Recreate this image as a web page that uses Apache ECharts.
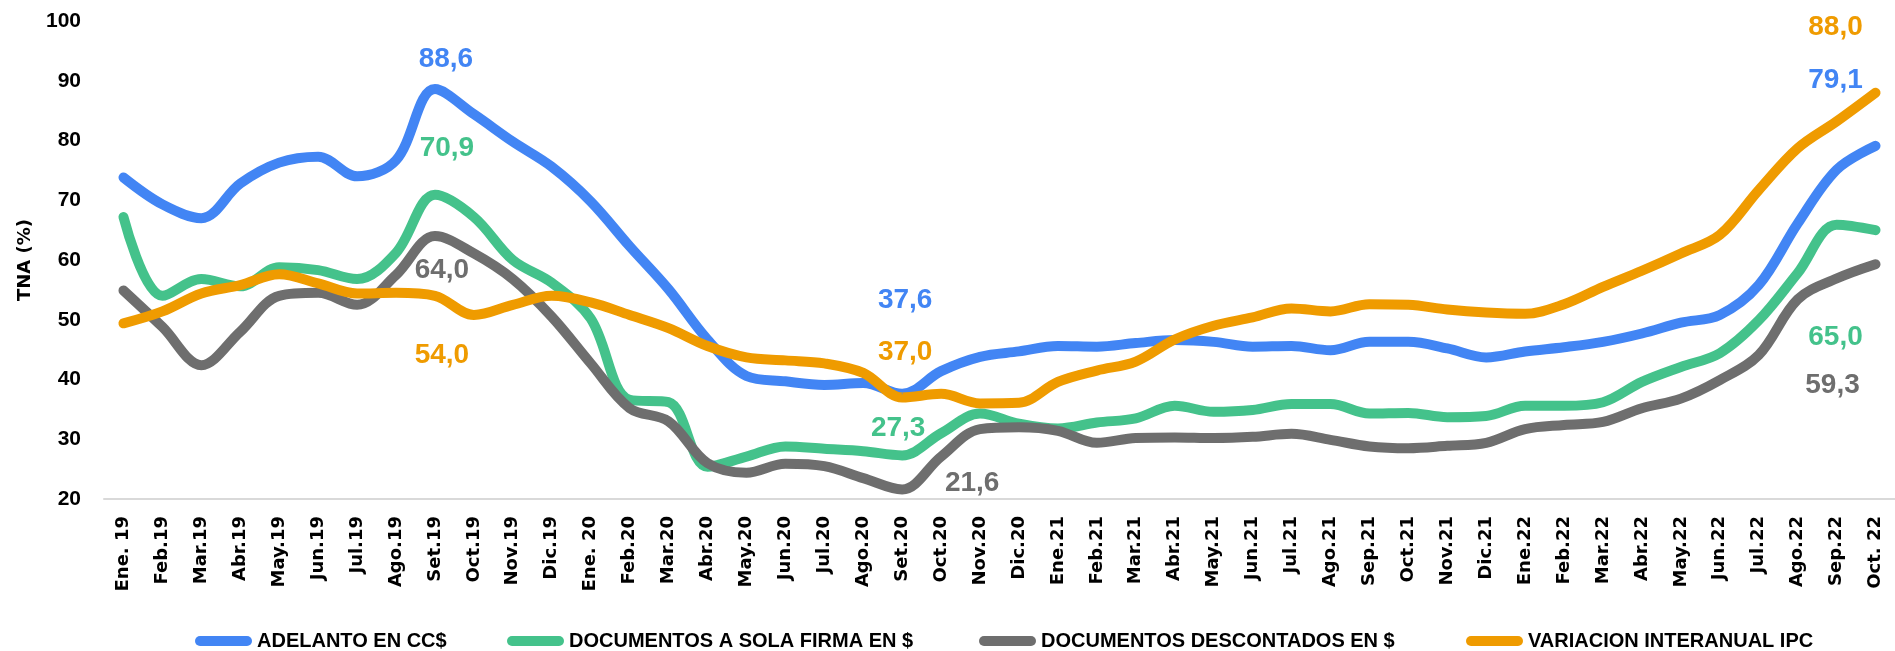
<!DOCTYPE html>
<html>
<head>
<meta charset="utf-8">
<title>TNA (%)</title>
<script src="https://cdn.jsdelivr.net/npm/echarts/dist/echarts.min.js"></script>
<style>
  html, body { margin: 0; padding: 0; background: #fff; }
  #chart { width: 1895px; height: 651px; }
</style>
</head>
<body>
<div id="chart"></div>
<script>
// meses
const months = [
  "Ene. 19", "Feb.19", "Mar.19", "Abr.19", "May.19", "Jun.19", "Jul.19", "Ago.19", "Set.19", "Oct.19", "Nov.19", "Dic.19",
  "Ene. 20", "Feb.20", "Mar.20", "Abr.20", "May.20", "Jun.20", "Jul.20", "Ago.20", "Set.20", "Oct.20", "Nov.20", "Dic.20",
  "Ene.21", "Feb.21", "Mar.21", "Abr.21", "May.21", "Jun.21", "Jul.21", "Ago.21", "Sep.21", "Oct.21", "Nov.21", "Dic.21",
  "Ene.22", "Feb.22", "Mar.22", "Abr.22", "May.22", "Jun.22", "Jul.22", "Ago.22", "Sep.22", "Oct. 22"
];

// ADELANTO EN CC$
const adelanto = [
  73.8, 69.3, 67.0, 72.8, 76.3, 77.3, 74.0, 76.7, 88.6, 84.4, 79.8, 75.6,
  69.8, 62.3, 55.1, 46.7, 40.6, 39.7, 39.1, 39.4, 37.6, 41.4, 43.8, 44.7,
  45.6, 45.5, 46.1, 46.6, 46.3, 45.5, 45.6, 44.9, 46.3, 46.3, 45.2, 43.7,
  44.7, 45.4, 46.3, 47.7, 49.5, 50.8, 55.8, 66.1, 75.1, 79.1
];
// DOCUMENTOS A SOLA FIRMA EN $
const solaFirma = [
  67.2, 54.0, 56.8, 55.6, 58.8, 58.3, 56.8, 61.2, 70.9, 67.2, 60.0, 56.2,
  50.2, 36.6, 36.2, 25.4, 27.1, 28.8, 28.4, 28.0, 27.3, 31.0, 34.3, 32.6,
  31.8, 32.8, 33.5, 35.6, 34.6, 34.9, 35.9, 35.9, 34.3, 34.4, 33.7, 33.9,
  35.6, 35.6, 36.2, 39.6, 42.1, 44.4, 49.9, 57.8, 65.9, 65.0
];
// DOCUMENTOS DESCONTADOS EN $
const descontados = [
  54.9, 48.8, 42.4, 48.0, 54.0, 54.5, 52.5, 57.5, 64.0, 61.1, 56.8, 50.5,
  42.7, 35.2, 33.0, 26.0, 24.4, 25.9, 25.5, 23.5, 21.6, 27.1, 31.7, 32.0,
  31.4, 29.4, 30.2, 30.3, 30.2, 30.4, 30.9, 29.9, 28.8, 28.5, 28.9, 29.4,
  31.7, 32.4, 32.9, 35.2, 36.8, 39.9, 44.1, 53.4, 56.9, 59.3
];
// VARIACION INTERANUAL IPC
const ipc = [
  49.4, 51.4, 54.4, 55.8, 57.6, 56.1, 54.4, 54.5, 54.0, 50.8, 52.5, 54.0,
  52.9, 50.8, 48.6, 45.6, 43.7, 43.2, 42.7, 41.1, 37.0, 37.6, 36.0, 36.1,
  39.6, 41.5, 43.0, 46.7, 49.0, 50.4, 51.9, 51.4, 52.6, 52.5, 51.7, 51.2,
  51.0, 52.6, 55.5, 58.2, 61.1, 64.2, 71.7, 78.7, 83.2, 88.0
];

const yTicks = { min: 20, max: 100, step: 10 };

// donde van las etiquetas de valor (indice -> desplazamiento en px)
const labelSpots = {
  adelanto: { 8: [11, -30], 20: [3, -94], 45: [-40, -66] },
  solaFirma: { 8: [12, -47], 20: [-4, -27], 45: [-40, 107] },
  descontados: { 8: [7, 34], 20: [70, -6], 45: [-43, 121] },
  ipc: { 8: [7, 59], 20: [3, -45], 45: [-40, -65] }
};

const colors = {
  adelanto: "#4285F4",
  solaFirma: "#44C28B",
  descontados: "#6E6E6E",
  ipc: "#EF9B00"
};

const numFont = "Liberation Sans, Arial, sans-serif";

function buildData(values, spots, color) {
  return values.map(function (v, i) {
    if (!spots[i]) return v;
    return {
      value: v,
      symbol: "circle",
      symbolSize: 1,
      label: {
        show: true,
        position: "inside",
        offset: spots[i],
        color: color,
        fontFamily: numFont,
        fontWeight: "bold",
        fontSize: 28,
        formatter: function (p) {
          return p.value.toFixed(1).replace(".", ",");
        }
      }
    };
  });
}

function makeSeries(name, key, values) {
  return {
    name: name,
    type: "line",
    smooth: 0.35,
    symbol: "none",
    showAllSymbol: true,
    data: buildData(values, labelSpots[key], colors[key]),
    itemStyle: { color: colors[key] },
    lineStyle: { width: 10, color: colors[key], cap: "round", join: "round" },
    animation: false
  };
}

const pill = "path://M5,0H52A5,5,0,0,1,52,10H5A5,5,0,0,1,5,0Z";

function makeLegend(name, left) {
  return {
    data: [name],
    left: left,
    top: 626,
    icon: pill,
    itemWidth: 57,
    itemHeight: 10,
    itemGap: 0,
    textStyle: {
      color: "#000",
      fontFamily: numFont,
      fontWeight: "bold",
      fontSize: 20
    }
  };
}

let myChart = echarts.init(document.getElementById("chart"));

let option = {
  backgroundColor: "#fff",
  animation: false,
  grid: { left: 104, top: 21, width: 1796, height: 478 },
  legend: [
    makeLegend("ADELANTO EN CC$", 190),
    makeLegend("DOCUMENTOS A SOLA FIRMA EN $", 502),
    makeLegend("DOCUMENTOS DESCONTADOS EN $", 974),
    makeLegend("VARIACION INTERANUAL IPC", 1461)
  ],
  xAxis: {
    type: "category",
    data: months,
    boundaryGap: true,
    axisTick: { show: false },
    axisLine: { lineStyle: { color: "#D9D9D9", width: 2 } },
    axisLabel: {
      interval: 0,
      rotate: 90,
      margin: 17,
      color: "#000",
      fontFamily: "DejaVu Sans, sans-serif",
      fontWeight: "bold",
      fontSize: 18
    }
  },
  yAxis: {
    type: "value",
    min: yTicks.min,
    max: yTicks.max,
    interval: yTicks.step,
    name: "TNA (%)",
    nameLocation: "middle",
    nameGap: 70,
    nameTextStyle: {
      color: "#000",
      fontFamily: "DejaVu Sans, sans-serif",
      fontWeight: "bold",
      fontSize: 18
    },
    axisLine: { show: false },
    axisTick: { show: false },
    splitLine: { show: false },
    axisLabel: {
      margin: 23,
      color: "#000",
      fontFamily: numFont,
      fontWeight: "bold",
      fontSize: 21
    }
  },
  series: [
    makeSeries("ADELANTO EN CC$", "adelanto", adelanto),
    makeSeries("DOCUMENTOS A SOLA FIRMA EN $", "solaFirma", solaFirma),
    makeSeries("DOCUMENTOS DESCONTADOS EN $", "descontados", descontados),
    makeSeries("VARIACION INTERANUAL IPC", "ipc", ipc)
  ]
};

myChart.setOption(option);
</script>
</body>
</html>
